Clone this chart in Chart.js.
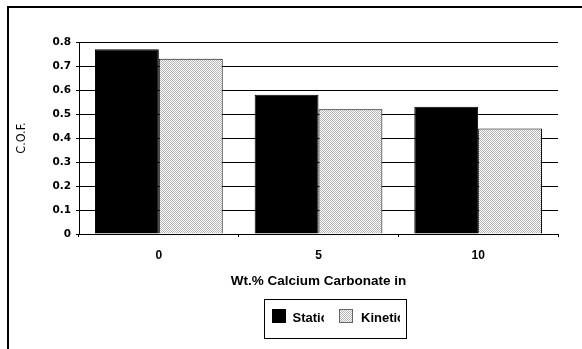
<!DOCTYPE html>
<html>
<head>
<meta charset="utf-8">
<script src="https://cdn.jsdelivr.net/npm/chart.js@4/dist/chart.umd.min.js"></script>
<style>
  html, body { margin: 0; padding: 0; background: #fff; }
  canvas { display: block; }
</style>
</head>
<body>
<canvas id="cof" width="582" height="349"></canvas>
<script>
// Coefficient of friction vs. calcium carbonate loading
const categories = ['0', '5', '10'];
const staticCof = [0.77, 0.58, 0.53];
const kineticCof = [0.73, 0.52, 0.44];
const seriesNames = ['Static', 'Kinetic'];
const yAxisMax = 0.8;
const yAxisStep = 0.1;
const xTitle = 'Wt.% Calcium Carbonate in';
const yTitle = 'C.O.F.';

// fine stipple fill for the kinetic series
function stipple() {
  const c = document.createElement('canvas');
  c.width = 2; c.height = 2;
  const g = c.getContext('2d');
  g.fillStyle = '#ffffff';
  g.fillRect(0, 0, 2, 2);
  g.fillStyle = '#b4b4b4';
  g.fillRect(0, 0, 1, 1);
  g.fillRect(1, 1, 1, 1);
  return g.createPattern(c, 'repeat');
}

const canvas = document.getElementById('cof');
const ctx = canvas.getContext('2d');
const kineticFill = stipple();

const SANS = '"Liberation Sans", Arial, sans-serif';
const WIDE = '"DejaVu Sans", Verdana, sans-serif';
const NARROW = '"Liberation Sans Narrow", "DejaVu Sans Condensed", Arial, sans-serif';

// outer frame (left and top edges)
const framePlugin = {
  id: 'frame',
  beforeDraw(chart) {
    const c = chart.ctx;
    c.save();
    c.fillStyle = '#fff';
    c.fillRect(0, 0, chart.width, chart.height);
    c.strokeStyle = '#000';
    c.lineWidth = 2;
    c.beginPath();
    c.moveTo(8, chart.height);
    c.lineTo(8, 7);
    c.lineTo(chart.width, 7);
    c.stroke();
    c.restore();
  }
};

// boxed legend with fixed-width text cells
const boxLegendPlugin = {
  id: 'boxLegend',
  afterDraw(chart) {
    const c = chart.ctx;
    const ds = chart.data.datasets;
    c.save();
    c.strokeStyle = '#000';
    c.lineWidth = 1;
    c.strokeRect(264.5, 299.5, 142, 39);

    const items = [
      { sw: 272, tx: 292.5, clip: 324, border: '#000' },
      { sw: 339, tx: 361, clip: 400, border: '#666' }
    ];
    items.forEach((it, i) => {
      c.fillStyle = ds[i].backgroundColor;
      c.fillRect(it.sw, 309, 14, 14);
      c.strokeStyle = it.border;
      c.strokeRect(it.sw + 0.5, 309.5, 13, 13);
      c.save();
      c.beginPath();
      c.rect(it.tx - 1, 300, it.clip - it.tx + 1, 38);
      c.clip();
      c.fillStyle = '#000';
      c.font = 'bold 13px ' + SANS;
      c.textBaseline = 'alphabetic';
      c.textAlign = 'left';
      c.fillText(ds[i].label, it.tx, 322);
      c.restore();
    });
    c.restore();
  }
};

new Chart(ctx, {
  type: 'bar',
  data: {
    labels: categories,
    datasets: [
      {
        label: seriesNames[0],
        data: staticCof,
        backgroundColor: '#000000',
        borderColor: '#000000',
        borderWidth: 1
      },
      {
        label: seriesNames[1],
        data: kineticCof,
        backgroundColor: kineticFill,
        borderColor: '#000000',
        borderWidth: 1
      }
    ]
  },
  options: {
    responsive: false,
    animation: false,
    events: [],
    layout: { padding: { left: 0, top: 42, right: 24, bottom: 0 } },
    datasets: { bar: { categoryPercentage: 0.8, barPercentage: 1.0 } },
    plugins: {
      legend: { display: false },
      tooltip: { enabled: false },
      title: { display: false }
    },
    scales: {
      x: {
        afterFit(scale) { scale.height = 115; },
        grid: {
          display: true,
          drawOnChartArea: false,
          drawTicks: true,
          tickLength: 3,
          color: '#000',
          offset: true
        },
        border: { display: true, color: '#000', width: 1 },
        ticks: {
          color: '#000',
          padding: 11,
          font: { family: SANS, size: 12, weight: 'bold' },
          maxRotation: 0
        },
        title: {
          display: true,
          text: xTitle,
          color: '#000',
          font: { family: SANS, size: 13.5, weight: 'bold' },
          padding: { top: 0, bottom: 60 }
        }
      },
      y: {
        min: 0,
        max: yAxisMax,
        afterFit(scale) { scale.width = 79; },
        grid: {
          color: '#000',
          lineWidth: 1,
          drawTicks: true,
          tickLength: 3
        },
        border: { display: true, color: '#000', width: 1 },
        ticks: {
          stepSize: yAxisStep,
          color: '#000',
          padding: 5,
          font: { family: WIDE, size: 10.5, weight: 'bold' },
          callback(v) { return Number(v.toFixed(1)).toString(); }
        },
        title: {
          display: true,
          text: yTitle,
          color: '#000',
          font: { family: NARROW, size: 12.5, weight: 'normal' },
          padding: { top: 14, bottom: 0 }
        }
      }
    }
  },
  plugins: [framePlugin, boxLegendPlugin]
});
</script>
</body>
</html>
